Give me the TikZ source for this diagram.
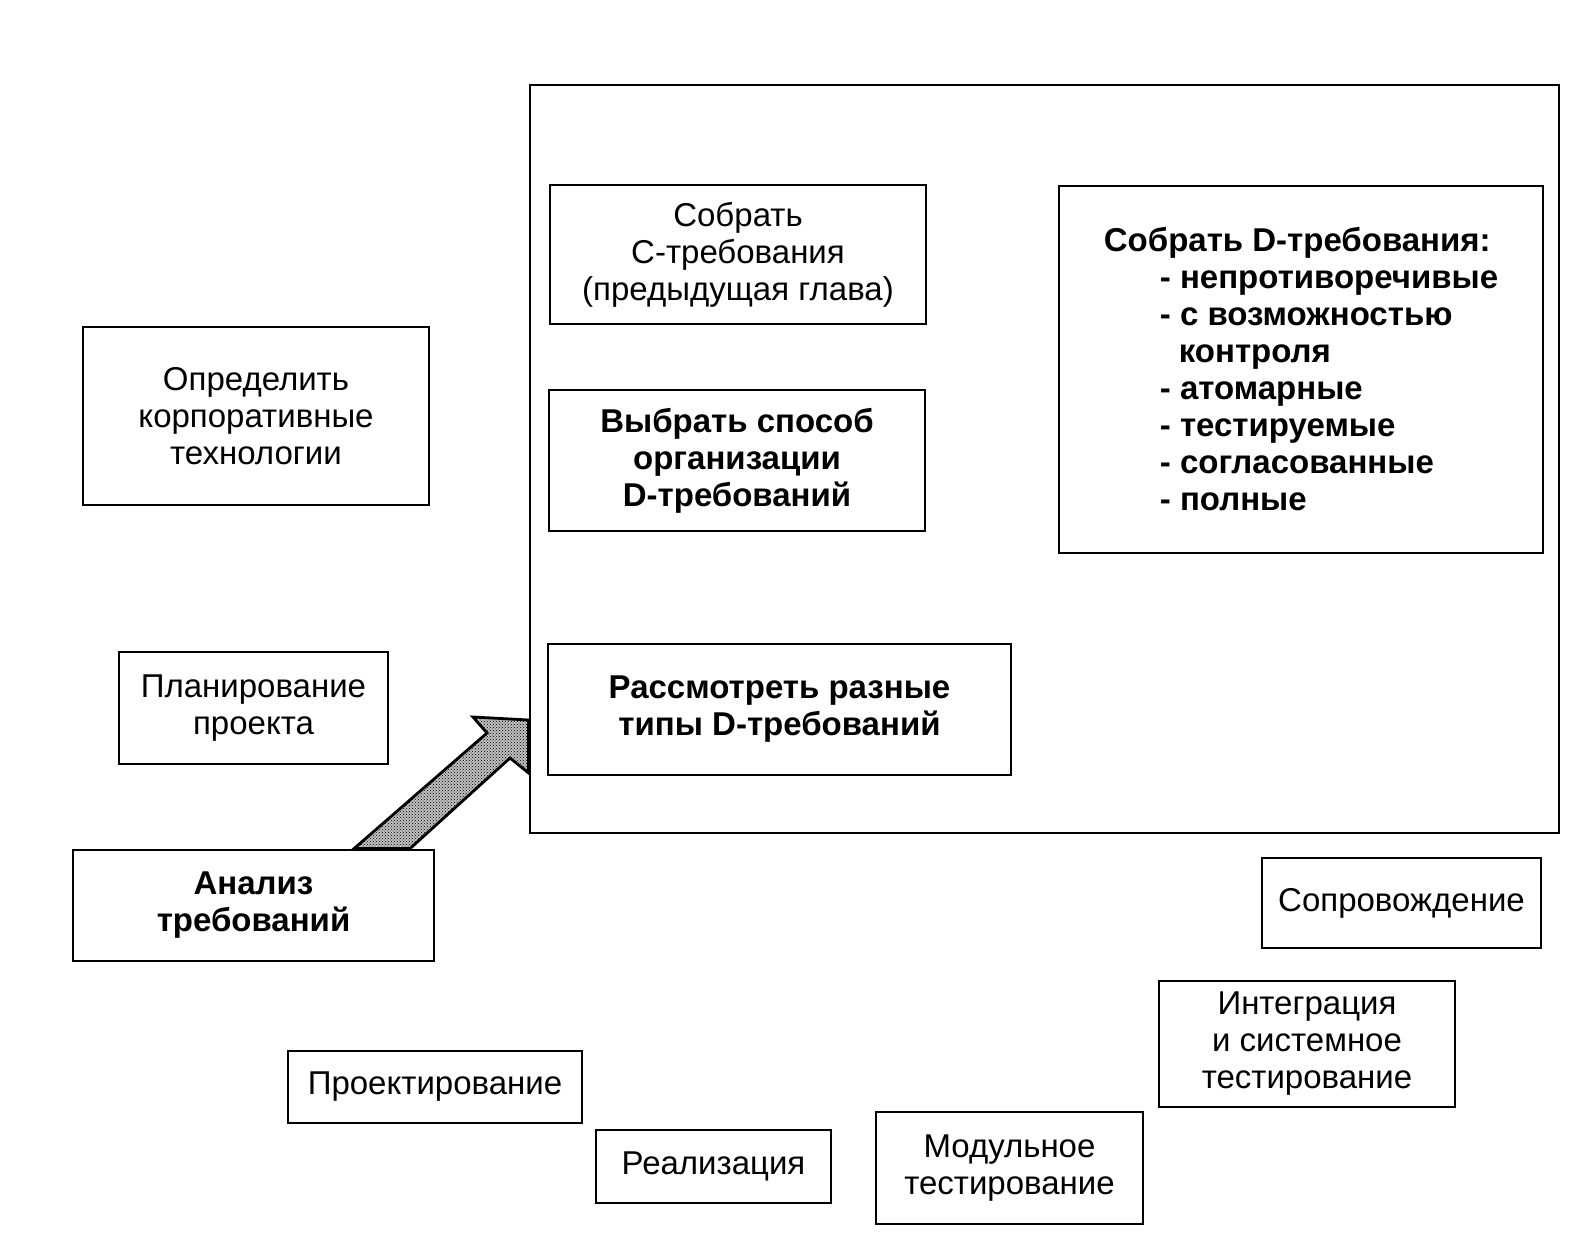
\documentclass[tikz,border=0pt]{standalone}
\usepackage{fontspec}
\setmainfont{Liberation Sans}
\usetikzlibrary{patterns}
\begin{document}
\begin{tikzpicture}[x=1pt,y=-1pt,
  box/.style={draw,line width=2.8pt,inner sep=0pt,align=center,
    font=\fontsize{33}{37}\selectfont},
  bbox/.style={box,font=\fontsize{33}{37}\selectfont\bfseries}]
\useasboundingbox (0,0) rectangle (1578,1239);
% big frame
\node[draw,line width=2.8pt,minimum width=1029pt,minimum height=748pt,inner sep=0pt] (frame) at (1044.5,459) {};
\node[box,minimum width=376pt,minimum height=139pt] (cbox) at (738,254.5) {Собрать\\C-требования\\(предыдущая глава)};
\node[bbox,minimum width=376pt,minimum height=141pt] (org) at (737,460.5) {Выбрать способ\\организации\\D-требований};
\node[bbox,minimum width=463pt,minimum height=131pt] (types) at (779.5,709.5) {Рассмотреть разные\\типы D-требований};
\node[draw,line width=2.8pt,inner sep=0pt,minimum width=484pt,minimum height=367pt,align=left,
  font=\fontsize{33}{37}\selectfont\bfseries] (dbox) at (1301,369.5)
  {Собрать D-требования:\\
   \hspace{56pt}- непротиворечивые\\
   \hspace{56pt}- с возможностью\\
   \hspace{75pt}контроля\\
   \hspace{56pt}- атомарные\\
   \hspace{56pt}- тестируемые\\
   \hspace{56pt}- согласованные\\
   \hspace{56pt}- полные};
\node[box,minimum width=346pt,minimum height=178pt] (corp) at (256,416) {Определить\\корпоративные\\технологии};
\node[box,minimum width=269pt,minimum height=112pt] (plan) at (253.5,708) {Планирование\\проекта};
\node[bbox,minimum width=361pt,minimum height=111pt] (anal) at (253.5,905.5) {Анализ\\требований};
\node[box,minimum width=294pt,minimum height=72pt] (design) at (435,1087) {Проектирование};
\node[box,minimum width=235pt,minimum height=73pt] (impl) at (713.5,1166.5) {Реализация};
\node[box,minimum width=267pt,minimum height=112pt] (unit) at (1009.5,1168) {Модульное\\тестирование};
\node[box,minimum width=296pt,minimum height=126pt] (integ) at (1307,1044) {Интеграция\\и системное\\тестирование};
\node[box,minimum width=279pt,minimum height=90pt] (maint) at (1401.5,903) {Сопровождение};
% block arrow from Анализ to frame
\coordinate (t1) at (anal.north -| 354,0);
\coordinate (t2) at (anal.north -| 410,0);
\fill[black!25]
  (t1) -- (487,733) -- (473,717) -- (frame.west |- 0,720) -- (frame.west |- 0,773) -- (510,758) -- (t2) -- cycle;
\draw[line width=2.8pt,line join=miter,pattern=crosshatch dots,pattern color=black]
  (t1) -- (487,733) -- (473,717) -- (frame.west |- 0,720) -- (frame.west |- 0,773) -- (510,758) -- (t2) -- cycle;
\end{tikzpicture}
\end{document}
